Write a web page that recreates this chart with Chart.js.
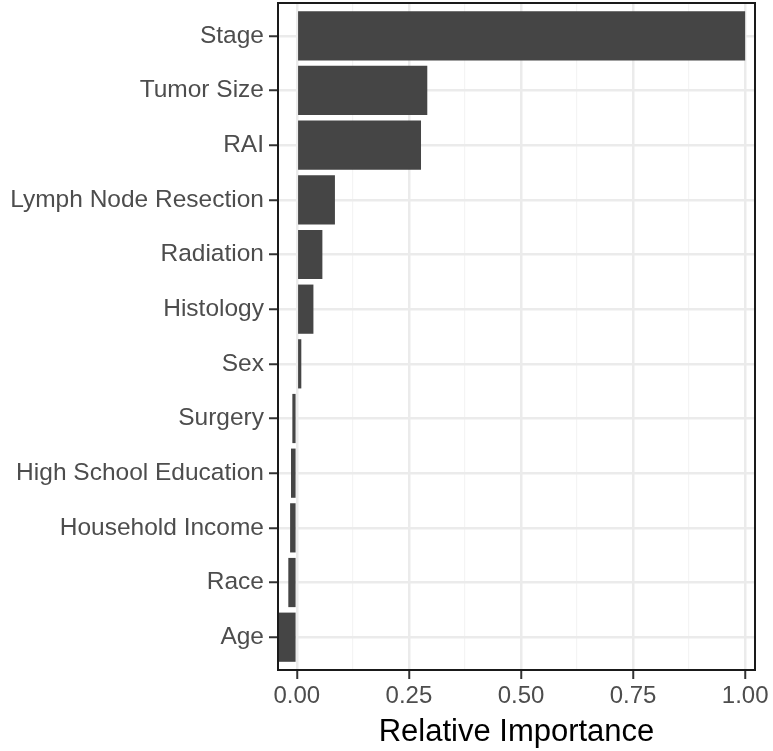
<!DOCTYPE html>
<html>
<head>
<meta charset="utf-8">
<script src="https://cdn.jsdelivr.net/npm/chart.js@4/dist/chart.umd.min.js"></script>
<style>
  html, body { margin: 0; padding: 0; background: #fff; }
  #wrap { width: 773px; height: 751px; }
</style>
</head>
<body>
<div id="wrap"><canvas id="grafico"></canvas></div>
<script>
// ---- datos ----
const categorias = ["Stage", "Tumor Size", "RAI", "Lymph Node Resection", "Radiation", "Histology",
  "Sex", "Surgery", "High School Education", "Household Income", "Race", "Age"];
const importancia = [1.0, 0.291, 0.277, 0.085, 0.057, 0.037, 0.010, -0.010, -0.013, -0.015, -0.019, -0.040];
const ticksX = [0, 0.25, 0.5, 0.75, 1.0];

const FUENTE = "'Liberation Sans', Arial, sans-serif";

function esMayor(v) {
  return ticksX.some(t => Math.abs(t - v) < 1e-6);
}

// marco del panel (theme_bw)
const marcoPanel = {
  id: "marcoPanel",
  afterDraw(chart) {
    const { ctx, chartArea: a } = chart;
    ctx.save();
    ctx.strokeStyle = "#1a1a1a";
    ctx.lineWidth = 2;
    ctx.strokeRect(a.left, a.top, a.right - a.left, a.bottom - a.top);
    ctx.restore();
  }
};

new Chart(document.getElementById("grafico"), {
  type: "bar",
  data: {
    datasets: [{
      data: importancia.map((v, i) => ({ x: v, y: i })),
      backgroundColor: "#454545",
      borderWidth: 0,
      barPercentage: 0.9,
      categoryPercentage: 1.0
    }]
  },
  options: {
    indexAxis: "y",
    responsive: true,
    maintainAspectRatio: false,
    animation: false,
    layout: { padding: { top: 3, right: 18, left: 0, bottom: 0 } },
    plugins: { legend: { display: false }, tooltip: { enabled: false } },
    scales: {
      x: {
        type: "linear",
        min: -0.042,
        max: 1.022,
        afterFit: s => { s.height = 81; s.paddingLeft = 0; s.paddingRight = 0; },
        border: { display: false },
        grid: {
          color: c => esMayor(c.tick.value) ? "#EBEBEB" : "#F4F4F4",
          lineWidth: c => esMayor(c.tick.value) ? 2.5 : 1.2,
          tickColor: c => esMayor(c.tick.value) ? "#333333" : "rgba(0,0,0,0)",
          tickWidth: 2,
          tickLength: 9
        },
        ticks: {
          stepSize: 0.125,
          includeBounds: false,
          autoSkip: false,
          maxRotation: 0,
          padding: 3,
          color: "#4D4D4D",
          font: { family: FUENTE, size: 24 },
          callback: v => esMayor(v) ? v.toFixed(2) : ""
        },
        title: {
          display: true,
          text: "Relative Importance",
          color: "#000",
          font: { family: FUENTE, size: 31 },
          padding: { top: 0, bottom: 0 }
        }
      },
      y: {
        type: "linear",
        reverse: true,
        min: -0.6,
        max: 11.6,
        offset: false,
        afterFit: s => { s.width = 278; s.paddingTop = 0; s.paddingBottom = 0; },
        border: { display: false },
        grid: {
          offset: false,
          color: "#EBEBEB",
          lineWidth: 2.5,
          tickColor: "#333333",
          tickWidth: 2,
          tickLength: 9
        },
        ticks: {
          stepSize: 1,
          includeBounds: false,
          autoSkip: false,
          padding: 5,
          color: "#4D4D4D",
          font: { family: FUENTE, size: 24.5 },
          callback: v => categorias[v] !== undefined ? categorias[v] : ""
        }
      }
    }
  },
  plugins: [marcoPanel]
});
</script>
</body>
</html>
